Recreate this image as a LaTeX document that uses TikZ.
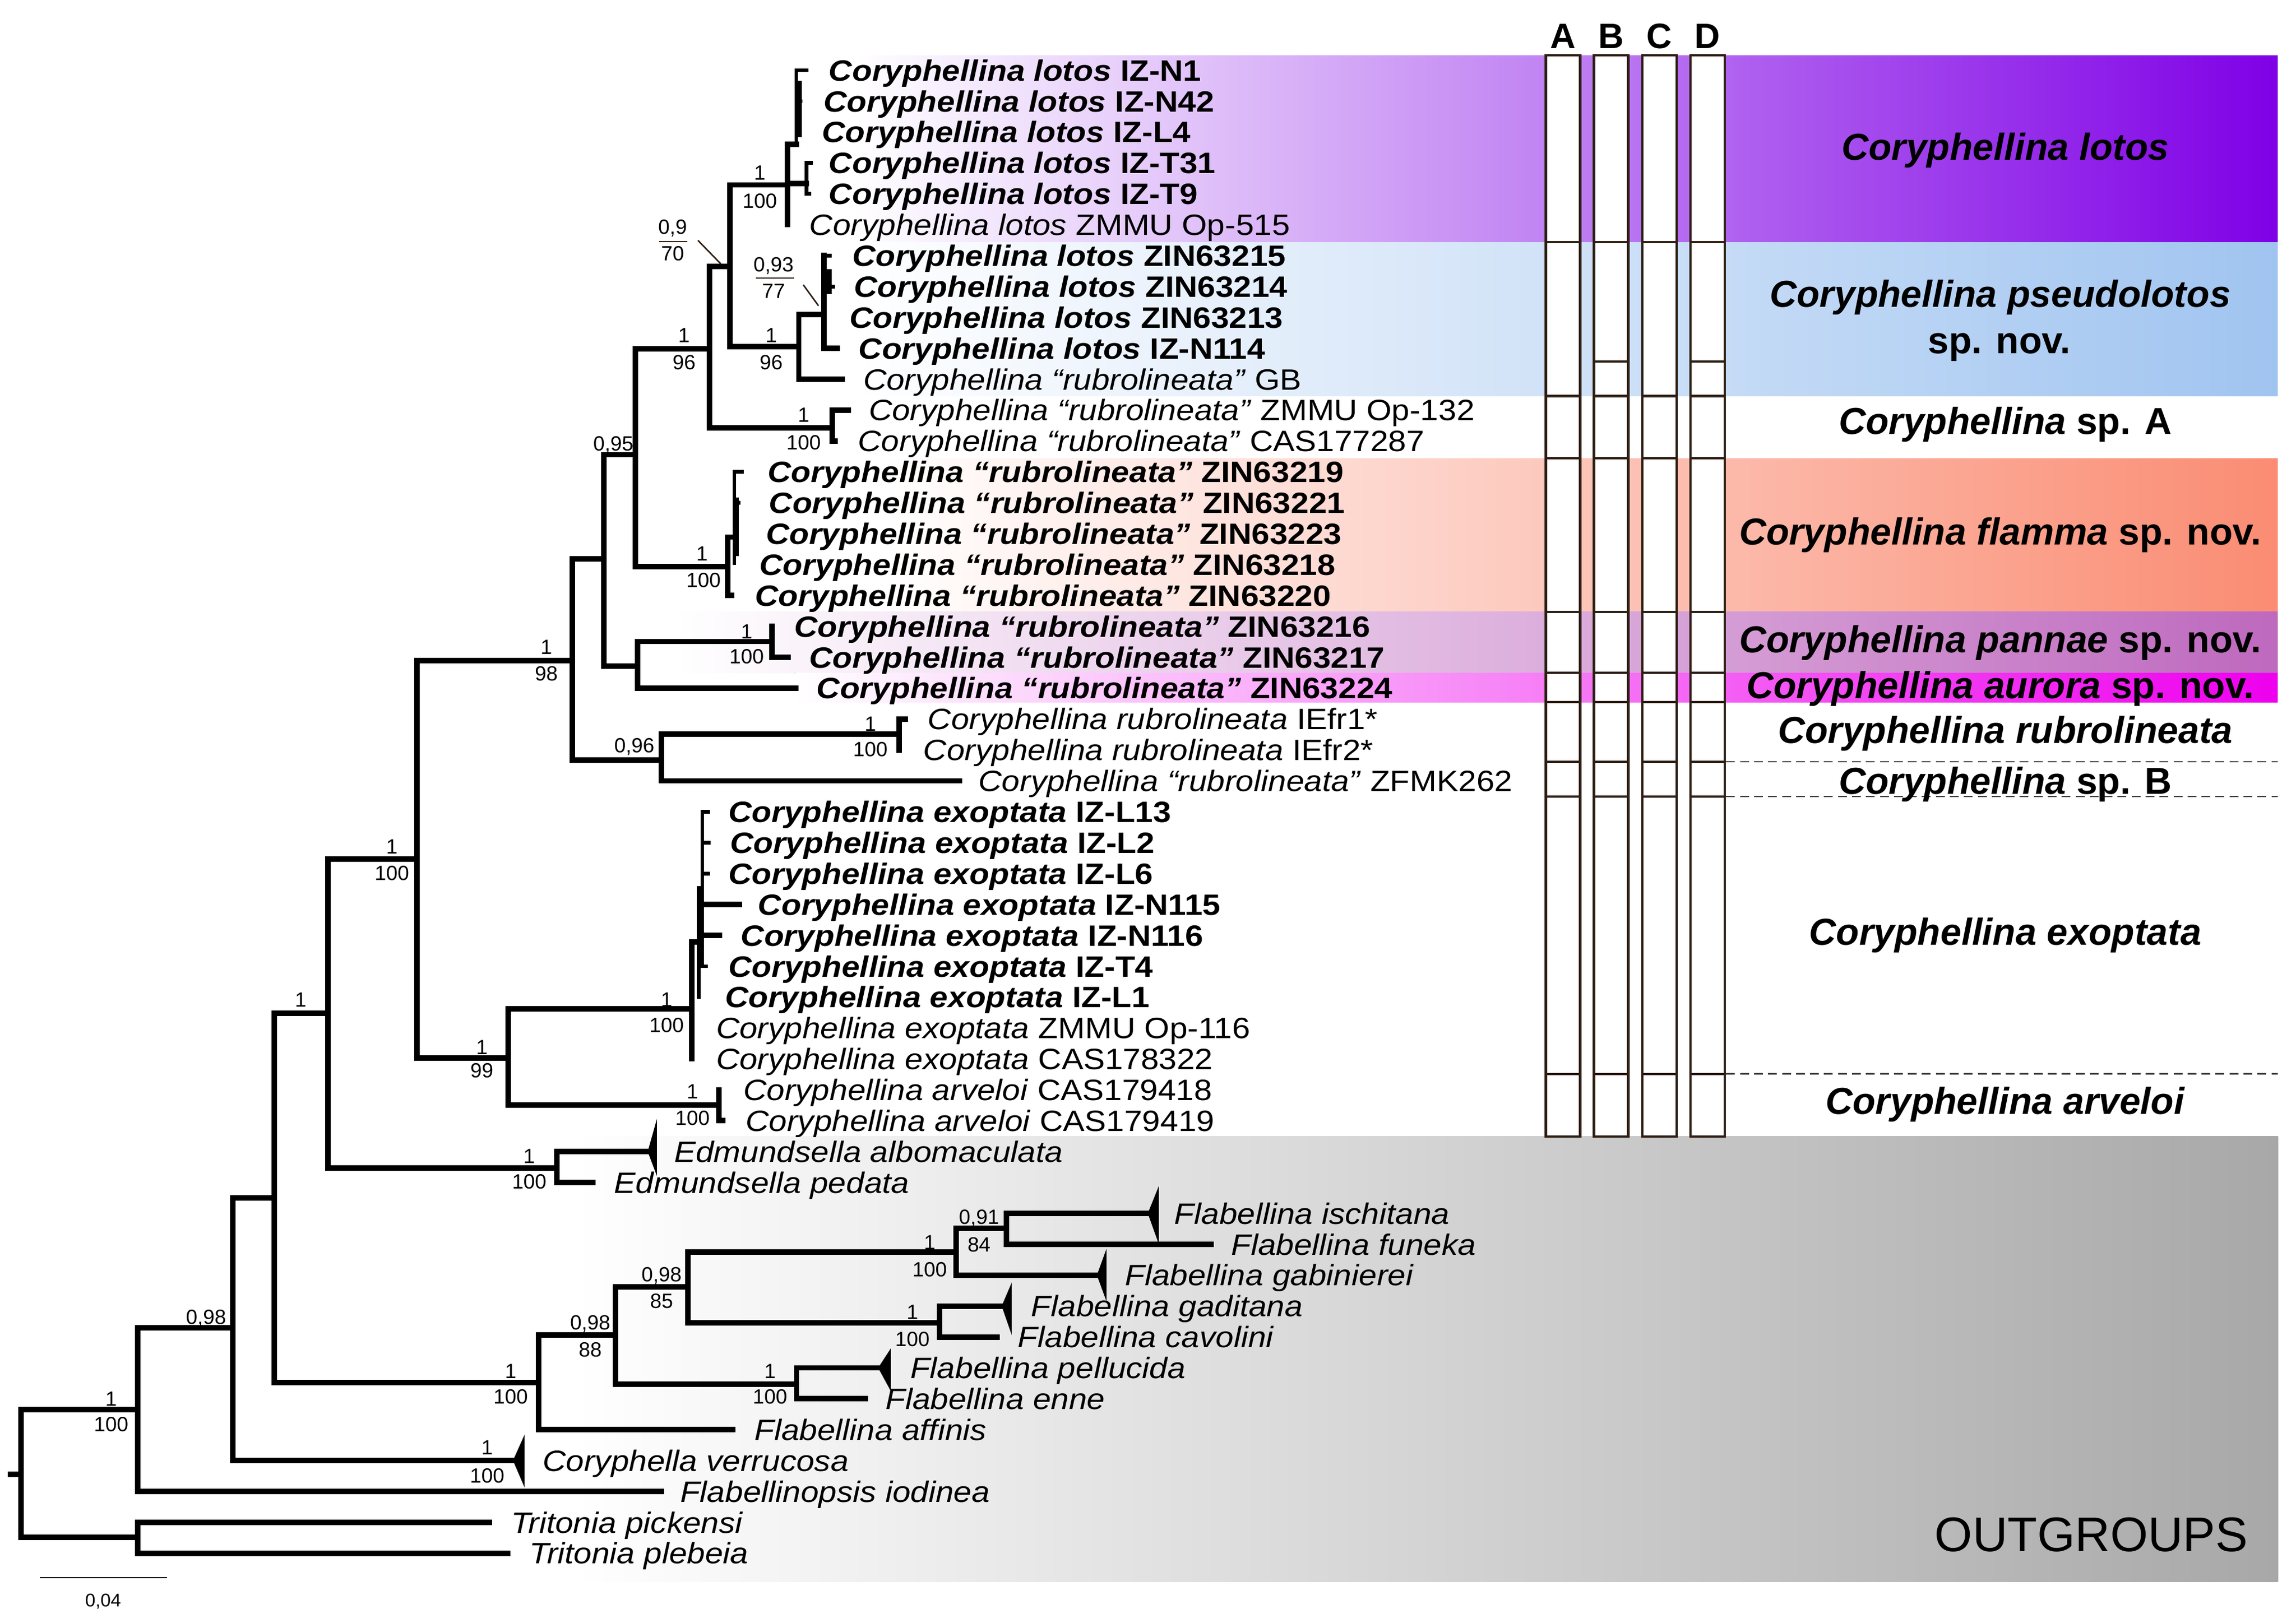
\documentclass[tikz,border=0pt]{standalone}
\usepackage{fontspec}
\setmainfont{Liberation Sans}
\newfontfamily\taxf{Liberation Sans}[FakeStretch=1.1]
\definecolor{lotosR}{RGB}{127,0,230}
\definecolor{pseudoR}{RGB}{160,196,240}
\definecolor{flammaR}{RGB}{250,140,115}
\definecolor{pannaeR}{RGB}{190,105,190}
\definecolor{auroraR}{RGB}{238,0,238}
\definecolor{outR}{RGB}{168,168,168}
\definecolor{barc}{RGB}{46,31,20}
\newcommand\SupV[4]{\node[supp] (#1) at (#2,#3) {#4};}
\newcommand\TaxB[4]{\node[taxb] (#1) at (#2,{#3*21+54.9}) {#4};}
\newcommand\TaxR[4]{\node[taxr] (#1) at (#2,{#3*21+54.9}) {#4};}
\begin{document}
\begin{tikzpicture}[x=1pt,y=-1pt,
  tree/.style={line width=3.7pt, line cap=rect},
  thin tree/.style={line width=2.5pt, line cap=rect},
  tri/.style={fill=black, draw=black, line width=0.8pt, line join=miter},
  supp/.style={inner sep=0pt, font=\fontsize{14}{16}\selectfont},
  taxr/.style={anchor=base west, inner sep=0pt, font=\taxf\fontsize{20}{22}\selectfont},
  taxb/.style={anchor=base west, inner sep=0pt, font=\taxf\bfseries\fontsize{20}{22}\selectfont},
  cladel/.style={anchor=base, inner sep=0pt, font=\bfseries\fontsize{25.5}{28}\selectfont},
  hdr/.style={anchor=base, inner sep=0pt, font=\bfseries\fontsize{24}{26}\selectfont},
  bar/.style={draw=barc, fill=white, line width=1.6pt},
  barline/.style={draw=barc, line width=1.6pt},
  dashline/.style={draw=black!75, line width=0.9pt, dash pattern=on 6pt off 3.5pt},
  fracbar/.style={draw=barc, line width=1pt}]
\useasboundingbox (0,0) rectangle (1560,1102.75);

% ---------- coloured bands ----------
\fill[left color=white,right color=lotosR] (580,37.7) rectangle (1547.5,164.6);
\fill[left color=white,right color=pseudoR] (580,164.6) rectangle (1547.5,269.2);
\fill[left color=white,right color=flammaR] (600,311.5) rectangle (1547.5,415.9);
\fill[left color=white,right color=pannaeR] (460,415.9) rectangle (1547.5,457.3);
\fill[left color=white,right color=auroraR] (540,457.3) rectangle (1547.5,477.2);
\fill[left color=white,right color=outR] (390,772.4) rectangle (1547.7,1075);

% ---------- character bars ----------
\foreach \bx in {1050.3,1083,1115.8,1148.5} {
  \filldraw[bar] (\bx,37.7) rectangle ++(23.3,734.9);
  \foreach \yy in {164.6,269.2,311.5,415.9,457.3,477.2,517.7,541.4,729.9}
    \draw[barline] (\bx,\yy) -- ++(23.3,0);
}
\draw[barline] (1083,245.6) -- ++(23.3,0);
\draw[barline] (1148.5,245.6) -- ++(23.3,0);
\node[hdr] (hA) at (1062,33) {A};
\node[hdr] (hB) at (1094.6,33) {B};
\node[hdr] (hC) at (1127.3,33) {C};
\node[hdr] (hD) at (1160.2,33) {D};

\draw[dashline] (1172.8,517.7) -- (1547.5,517.7);
\draw[dashline] (1172.8,541.4) -- (1547.5,541.4);
\draw[dashline] (1172.8,729.9) -- (1547.5,729.9);

% ---------- clade labels ----------
\node[cladel] (c1) at (1362.5,108.9) {\textit{Coryphellina lotos}};
\node[cladel] (c2a) at (1359,208.7) {\textit{Coryphellina pseudolotos}};
\node[cladel] (c2b) at (1358.3,240.3) {sp. nov.};
\node[cladel] (c3) at (1362.5,295.3) {\textit{Coryphellina} sp. A};
\node[cladel] (c4) at (1359,370.4) {\textit{Coryphellina flamma} sp. nov.};
\node[cladel] (c5) at (1359,443.7) {\textit{Coryphellina pannae} sp. nov.};
\node[cladel] (c6) at (1359,474.8) {\textit{Coryphellina aurora} sp. nov.};
\node[cladel] (c7) at (1362.5,505.3) {\textit{Coryphellina rubrolineata}};
\node[cladel] (c8) at (1362.5,539.6) {\textit{Coryphellina} sp. B};
\node[cladel] (c9) at (1362.5,642.4) {\textit{Coryphellina exoptata}};
\node[cladel] (c10) at (1362.5,757.4) {\textit{Coryphellina arveloi}};
\node[anchor=base east, inner sep=0pt, font=\fontsize{33}{36}\selectfont] (og) at (1527.5,1054.6) {OUTGROUPS};

% ---------- tree ----------
% root and outgroups
\draw[tree] (7,1002) -- (14.4,1002);
\draw[tree] (93.5,958) -- (14.4,958) -- (14.4,1045) -- (93.5,1045);
\draw[tree] (332.6,1034.7) -- (93.5,1034.7) -- (93.5,1055.7) -- (345,1055.7);
\draw[tree] (158.2,902.4) -- (93.5,902.4) -- (93.5,1013.7) -- (449.5,1013.7);
\draw[tree] (186.4,814.3) -- (158.2,814.3) -- (158.2,992.7) -- (349,992.7);
\filldraw[tri] (349,992.7) -- (356,977) -- (356,1009) -- cycle;
\draw[tree] (222.8,688.8) -- (186.4,688.8) -- (186.4,939.6) -- (366,939.6);
% Flabellina
\draw[tree] (418.2,907.4) -- (366,907.4) -- (366,971.7) -- (498,971.7);
\draw[tree] (467.5,874.6) -- (418.2,874.6) -- (418.2,940.8) -- (541.2,940.8);
\draw[tree] (649.5,851) -- (467.5,851) -- (467.5,899) -- (638.4,899);
\draw[tree] (683.7,835) -- (649.5,835) -- (649.5,866.7) -- (745.7,866.7);
\filldraw[tri] (745.7,866.7) -- (751.4,851) -- (751.4,882.3) -- cycle;
\draw[tree] (780.3,824.7) -- (683.7,824.7) -- (683.7,845.7) -- (822.9,845.7);
\filldraw[tri] (780.3,824.7) -- (787,808) -- (787,843.5) -- cycle;
\draw[tree] (681,887.7) -- (638.4,887.7) -- (638.4,909) -- (677.6,909);
\filldraw[tri] (681,887.7) -- (687,873.7) -- (687,905) -- cycle;
\draw[tree] (597.1,929.7) -- (541.2,929.7) -- (541.2,950.7) -- (588,950.7);
\filldraw[tri] (597.1,929.7) -- (604.8,917.9) -- (604.8,943.8) -- cycle;
% Edmundsella
\draw[tree] (283.4,583.8) -- (222.8,583.8) -- (222.8,793.8) -- (378.3,793.8);
\draw[tree] (440.5,782.7) -- (378.3,782.7) -- (378.3,803.7) -- (402.7,803.7);
\filldraw[tri] (440.5,782.7) -- (445.9,763.5) -- (445.9,797) -- cycle;
% Coryphellina
\draw[tree] (388.8,449.1) -- (283.4,449.1) -- (283.4,719.2) -- (345.3,719.2);
\draw[tree] (470,685.7) -- (345.3,685.7) -- (345.3,751.2) -- (488.5,751.2);
\draw[tree] (474.7,640.1) -- (470,640.1) -- (470,719.7);
\draw[thin tree] (477.1,603.5) -- (474.7,603.5) -- (474.7,677.7);
\draw[thin tree] (477.1,551.7) -- (477.1,656.7);
\draw[thin tree] (477.1,551.7) -- (481,551.7);
\draw[thin tree] (477.1,572.7) -- (481.5,572.7);
\draw[thin tree] (477.1,593.7) -- (481,593.7);
\draw[tree] (477.1,614.7) -- (502.2,614.7);
\draw[tree] (477.1,635.7) -- (489,635.7);
\draw[thin tree] (477.1,656.7) -- (479.5,656.7);
\draw[tree] (488.5,740.7) -- (488.5,761.7) -- (491,761.7);
\draw[tree] (410.2,379.8) -- (388.8,379.8) -- (388.8,516.7) -- (449.5,516.7);
\draw[tree] (610.8,499) -- (449.5,499) -- (449.5,530.7) -- (651.8,530.7);
\draw[tree] (615,488.7) -- (610.8,488.7) -- (610.8,509.7);
\draw[tree] (431.8,309) -- (410.2,309) -- (410.2,452.6) -- (433.1,452.6);
\draw[tree] (524.6,436) -- (433.1,436) -- (433.1,467.7) -- (540.5,467.7);
\draw[tree] (524.6,425.7) -- (524.6,446.7) -- (535.3,446.7);
\draw[tree] (481.9,237.2) -- (431.8,237.2) -- (431.8,385.2) -- (494.3,385.2);
% flamma
\draw[tree] (494.3,365) -- (494.3,404.7) -- (497,404.7);
\draw[tree] (494.3,365) -- (499,365);
\draw[thin tree] (499,320.7) -- (499,382.7);
\draw[thin tree] (499,320.7) -- (504,320.7);
\draw[thin tree] (499,341.7) -- (502,341.7);
\draw[line width=4pt] (500,338) -- (500,378);
% lotos + pseudolotos
\draw[tree] (496,181) -- (481.9,181) -- (481.9,290.8) -- (565.5,290.8);
\draw[tree] (576.3,278.7) -- (565.5,278.7) -- (565.5,299.7) -- (567.5,299.7);
\draw[tree] (534.9,125.7) -- (496,125.7) -- (496,235.5) -- (542.7,235.5);
\draw[tree] (559.8,213.7) -- (542.7,213.7) -- (542.7,257.7) -- (572.3,257.7);
\draw[tree] (559.8,173.7) -- (559.8,236.7) -- (569,236.7);
\draw[thin tree] (559.8,173.7) -- (564,173.7);
\draw[thin tree] (559.8,194.7) -- (566,194.7);
\draw[line width=4pt] (563,183) -- (563,200);
\draw[tree] (534.9,98) -- (534.9,152.7);
\draw[tree] (534.9,98) -- (541,98);
\draw[thin tree] (541,47.7) -- (541,98);
\draw[thin tree] (541,47.7) -- (548,47.7);
\draw[thin tree] (541,68.7) -- (544,68.7);
\draw[line width=4.5pt] (542.5,55) -- (542.5,93);
\draw[tree] (534.9,124.8) -- (548,124.8);
\draw[thin tree] (548,110.7) -- (548,131.7);
\draw[thin tree] (548,110.7) -- (551,110.7);
\draw[thin tree] (548,131.7) -- (550,131.7);

% ---------- support values ----------
\SupV{s1}{75.5}{950.8}{1}   \SupV{s2}{75.5}{968}{100}
\SupV{s3}{140}{896}{0,98}
\SupV{s4}{331}{984}{1}      \SupV{s5}{331}{1003}{100}
\SupV{s6}{204.3}{679.7}{1}
\SupV{s7}{347}{932.2}{1}    \SupV{s8}{347}{949.5}{100}
\SupV{s9}{401}{899.9}{0,98} \SupV{s10}{401}{917.3}{88}
\SupV{s11}{449.5}{867.2}{0,98} \SupV{s12}{449.5}{884.5}{85}
\SupV{s13}{631.7}{844.6}{1} \SupV{s14}{631.7}{862.9}{100}
\SupV{s15}{665.2}{828}{0,91} \SupV{s16}{665.2}{846.1}{84}
\SupV{s17}{619.9}{892}{1}   \SupV{s18}{619.9}{910.4}{100}
\SupV{s19}{523.2}{932.2}{1} \SupV{s20}{523.2}{949.5}{100}
\SupV{s21}{266.3}{575.4}{1} \SupV{s22}{266.3}{593.4}{100}
\SupV{s23}{359.6}{785.8}{1} \SupV{s24}{359.6}{803.2}{100}
\SupV{s25}{371.2}{440}{1}   \SupV{s26}{371.2}{458}{98}
\SupV{s27}{327.4}{712}{1}   \SupV{s28}{327.4}{727.6}{99}
\SupV{s29}{452.9}{679.7}{1} \SupV{s30}{452.9}{696.9}{100}
\SupV{s31}{470.5}{742}{1}   \SupV{s32}{470.5}{760}{100}
\SupV{s33}{431}{507.4}{0,96}
\SupV{s34}{591.4}{492}{1}   \SupV{s35}{591.4}{509.2}{100}
\SupV{s36}{416.7}{302.5}{0,95}
\SupV{s37}{507.3}{429.2}{1} \SupV{s38}{507.3}{446.3}{100}
\SupV{s39}{477}{376.2}{1}   \SupV{s40}{478}{394.2}{100}
\SupV{s41}{464.8}{228}{1}   \SupV{s42}{464.8}{246.4}{96}
\SupV{s43}{546}{282}{1}     \SupV{s44}{546}{300.7}{100}
\SupV{s45}{457}{155}{0,9}   \SupV{s46}{457}{172.5}{70}
\draw[fracbar] (447.7,164.2) -- (467,164.2);
\draw[fracbar] (474.2,163.4) -- (489.7,179.3);
\SupV{s47}{524}{228}{1}     \SupV{s48}{524}{246.4}{96}
\SupV{s49}{525.6}{180.5}{0,93} \SupV{s50}{525.6}{198}{77}
\draw[fracbar] (513.7,189) -- (539.6,189);
\draw[fracbar] (545.8,193.6) -- (556.1,207.8);
\SupV{s51}{516.2}{117.3}{1} \SupV{s52}{516.2}{136.6}{100}

% ---------- taxa ----------
\TaxB{t0}{563}{0}{\textit{Coryphellina lotos} IZ-N1}
\TaxB{t1}{559.5}{1}{\textit{Coryphellina lotos} IZ-N42}
\TaxB{t2}{558.3}{2}{\textit{Coryphellina lotos} IZ-L4}
\TaxB{t3}{563}{3}{\textit{Coryphellina lotos} IZ-T31}
\TaxB{t4}{563}{4}{\textit{Coryphellina lotos} IZ-T9}
\TaxR{t5}{549.8}{5}{\textit{Coryphellina lotos} ZMMU Op-515}
\TaxB{t6}{578.8}{6}{\textit{Coryphellina lotos} ZIN63215}
\TaxB{t7}{580}{7}{\textit{Coryphellina lotos} ZIN63214}
\TaxB{t8}{577}{8}{\textit{Coryphellina lotos} ZIN63213}
\TaxB{t9}{583.2}{9}{\textit{Coryphellina lotos} IZ-N114}
\TaxR{t10}{586.3}{10}{\textit{Coryphellina “rubrolineata”} GB}
\TaxR{t11}{590.1}{11}{\textit{Coryphellina “rubrolineata”} ZMMU Op-132}
\TaxR{t12}{582.8}{12}{\textit{Coryphellina “rubrolineata”} CAS177287}
\TaxB{t13}{521.5}{13}{\textit{Coryphellina “rubrolineata”} ZIN63219}
\TaxB{t14}{522.4}{14}{\textit{Coryphellina “rubrolineata”} ZIN63221}
\TaxB{t15}{520.2}{15}{\textit{Coryphellina “rubrolineata”} ZIN63223}
\TaxB{t16}{515.9}{16}{\textit{Coryphellina “rubrolineata”} ZIN63218}
\TaxB{t17}{512.9}{17}{\textit{Coryphellina “rubrolineata”} ZIN63220}
\TaxB{t18}{539.6}{18}{\textit{Coryphellina “rubrolineata”} ZIN63216}
\TaxB{t19}{549.6}{19}{\textit{Coryphellina “rubrolineata”} ZIN63217}
\TaxB{t20}{554.7}{20}{\textit{Coryphellina “rubrolineata”} ZIN63224}
\TaxR{t21}{630.2}{21}{\textit{Coryphellina rubrolineata} IEfr1*}
\TaxR{t22}{627.2}{22}{\textit{Coryphellina rubrolineata} IEfr2*}
\TaxR{t23}{664.7}{23}{\textit{Coryphellina “rubrolineata”} ZFMK262}
\TaxB{t24}{494.8}{24}{\textit{Coryphellina exoptata} IZ-L13}
\TaxB{t25}{495.8}{25}{\textit{Coryphellina exoptata} IZ-L2}
\TaxB{t26}{494.8}{26}{\textit{Coryphellina exoptata} IZ-L6}
\TaxB{t27}{514.9}{27}{\textit{Coryphellina exoptata} IZ-N115}
\TaxB{t28}{503.2}{28}{\textit{Coryphellina exoptata} IZ-N116}
\TaxB{t29}{494.8}{29}{\textit{Coryphellina exoptata} IZ-T4}
\TaxB{t30}{492.4}{30}{\textit{Coryphellina exoptata} IZ-L1}
\TaxR{t31}{486.4}{31}{\textit{Coryphellina exoptata} ZMMU Op-116}
\TaxR{t32}{486.4}{32}{\textit{Coryphellina exoptata} CAS178322}
\TaxR{t33}{504.9}{33}{\textit{Coryphellina arveloi} CAS179418}
\TaxR{t34}{506.5}{34}{\textit{Coryphellina arveloi} CAS179419}
\TaxR{t35}{457.9}{35}{\textit{Edmundsella albomaculata}}
\TaxR{t36}{417.1}{36}{\textit{Edmundsella pedata}}
\TaxR{t37}{797.7}{37}{\textit{Flabellina ischitana}}
\TaxR{t38}{836.3}{38}{\textit{Flabellina funeka}}
\TaxR{t39}{764.2}{39}{\textit{Flabellina gabinierei}}
\TaxR{t40}{700.4}{40}{\textit{Flabellina gaditana}}
\TaxR{t41}{691.4}{41}{\textit{Flabellina cavolini}}
\TaxR{t42}{618.3}{42}{\textit{Flabellina pellucida}}
\TaxR{t43}{601.5}{43}{\textit{Flabellina enne}}
\TaxR{t44}{512.4}{44}{\textit{Flabellina affinis}}
\TaxR{t45}{368.6}{45}{\textit{Coryphella verrucosa}}
\TaxR{t46}{462}{46}{\textit{Flabellinopsis iodinea}}
\TaxR{t47}{347}{47}{\textit{Tritonia pickensi}}
\TaxR{t48}{359.6}{48}{\textit{Tritonia plebeia}}

% ---------- scale bar ----------
\draw[line width=1pt] (27,1072.3) -- (113.3,1072.3);
\node[inner sep=0pt, font=\fontsize{12.5}{14}\selectfont] (sb) at (70.1,1088.4) {0,04};
\end{tikzpicture}
\end{document}
